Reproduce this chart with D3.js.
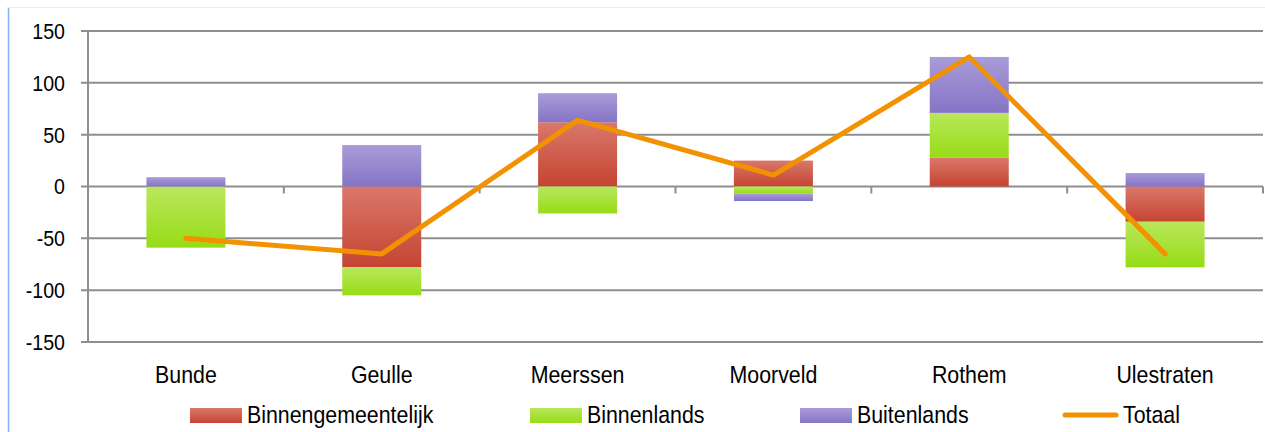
<!DOCTYPE html>
<html lang="nl">
<head>
  <meta charset="utf-8">
  <title>Migratiesaldo per woonkern</title>
  <script src="https://d3js.org/d3.v7.min.js"></script>
  <style>
    body { margin: 0; background: #fff; }
    text { font-family: "Liberation Sans", Arial, sans-serif; fill: #000; }
    .ytick { font-size: 22px; }
    .xtick { font-size: 24px; }
    .legend text { font-size: 24px; }
  </style>
</head>
<body>
  <svg width="1265" height="432"></svg>
  <script>
    var kernen = ["Bunde", "Geulle", "Meerssen", "Moorveld", "Rothem", "Ulestraten"];
    var binnengemeentelijk = [0, -78, 62, 25, 28, -34];
    var binnenlands = [-59, -27, -26, -7, 43, -44];
    var buitenlands = [9, 40, 28, -7, 54, 13];
    var totaal = [-50, -65, 64, 11, 125, -65];
    var yTicks = [-150, -100, -50, 0, 50, 100, 150];

    var series = [
      { key: "Binnengemeentelijk", values: binnengemeentelijk, top: "#d9786b", bottom: "#c54431" },
      { key: "Binnenlands", values: binnenlands, top: "#b9e75c", bottom: "#97dc16" },
      { key: "Buitenlands", values: buitenlands, top: "#a99cd8", bottom: "#8574c6" }
    ];

    // smal lettertype nabootsen: horizontaal samendrukken
    var smal = 0.89;
    function pos(x, y) { return "translate(" + x + "," + y + ") scale(" + smal + ",1)"; }

    var svg = d3.select("svg");

    // kader
    svg.append("line").attr("x1", 8.5).attr("x2", 8.5).attr("y1", 7).attr("y2", 432)
      .attr("stroke", "#86aef0").attr("stroke-width", 1.5);
    svg.append("line").attr("x1", 8).attr("x2", 1265).attr("y1", 7.5).attr("y2", 7.5)
      .attr("stroke", "#e6eefa").attr("stroke-width", 1);

    var left = 88, right = 1263;
    var x = d3.scaleBand().domain(kernen).range([left, right]);
    var y = d3.scaleLinear().domain([-150, 150]).range([342, 31]);
    var barW = 79;

    // gradienten
    var defs = svg.append("defs");
    series.forEach(function(s, i) {
      var g = defs.append("linearGradient").attr("id", "grad" + i)
        .attr("x1", 0).attr("x2", 0).attr("y1", 0).attr("y2", 1);
      g.append("stop").attr("offset", "0%").attr("stop-color", s.top);
      g.append("stop").attr("offset", "100%").attr("stop-color", s.bottom);
    });

    // rasterlijnen
    svg.append("g").selectAll("line").data(yTicks).join("line")
      .attr("x1", left - 7).attr("x2", right)
      .attr("y1", d => y(d)).attr("y2", d => y(d))
      .attr("stroke", "#8e8e8e").attr("stroke-width", 2);

    // y-as
    svg.append("line").attr("x1", left).attr("x2", left).attr("y1", y(150)).attr("y2", y(-150))
      .attr("stroke", "#8e8e8e").attr("stroke-width", 2);

    svg.append("g").selectAll("text").data(yTicks).join("text")
      .attr("class", "ytick")
      .attr("transform", d => pos(65, y(d)))
      .attr("dy", "0.36em")
      .attr("text-anchor", "end")
      .text(d => d);

    // categorie-tickjes op de nullijn
    var grens = kernen.map(k => x(k)).concat([right]);
    svg.append("g").selectAll("line").data(grens).join("line")
      .attr("x1", d => d).attr("x2", d => d)
      .attr("y1", y(0)).attr("y2", y(0) + 7)
      .attr("stroke", "#8e8e8e").attr("stroke-width", 2);

    // gestapelde kolommen
    var rows = kernen.map(function(k, i) {
      var r = { kern: k };
      series.forEach(s => r[s.key] = s.values[i]);
      return r;
    });
    var stack = d3.stack().keys(series.map(s => s.key)).offset(d3.stackOffsetDiverging);
    var stacked = stack(rows);

    svg.append("g").selectAll("g").data(stacked).join("g")
      .attr("fill", (d, i) => "url(#grad" + i + ")")
      .selectAll("rect").data(d => d).join("rect")
        .attr("x", d => x(d.data.kern) + x.bandwidth() / 2 - barW / 2)
        .attr("width", barW)
        .attr("y", d => y(Math.max(d[0], d[1])))
        .attr("height", d => Math.abs(y(d[0]) - y(d[1])));

    // totaallijn
    var line = d3.line()
      .x((d, i) => x(kernen[i]) + x.bandwidth() / 2)
      .y(d => y(d));
    svg.append("path").datum(totaal)
      .attr("d", line)
      .attr("fill", "none")
      .attr("stroke", "#f39200")
      .attr("stroke-width", 5)
      .attr("stroke-linejoin", "round")
      .attr("stroke-linecap", "round");

    // categorielabels
    svg.append("g").selectAll("text").data(kernen).join("text")
      .attr("class", "xtick")
      .attr("transform", d => pos(x(d) + x.bandwidth() / 2, 383))
      .attr("text-anchor", "middle")
      .text(d => d);

    // legenda
    var legend = svg.append("g").attr("class", "legend");
    var legX = [190, 530, 800];
    series.forEach(function(s, i) {
      legend.append("rect").attr("x", legX[i]).attr("y", 408).attr("width", 52).attr("height", 15)
        .attr("fill", "url(#grad" + i + ")");
      legend.append("text").attr("transform", pos(legX[i] + 57, 423)).text(s.key);
    });
    legend.append("line").attr("x1", 1065).attr("x2", 1116).attr("y1", 415).attr("y2", 415)
      .attr("stroke", "#f39200").attr("stroke-width", 5).attr("stroke-linecap", "round");
    legend.append("text").attr("transform", pos(1123, 423)).text("Totaal");
  </script>
</body>
</html>
